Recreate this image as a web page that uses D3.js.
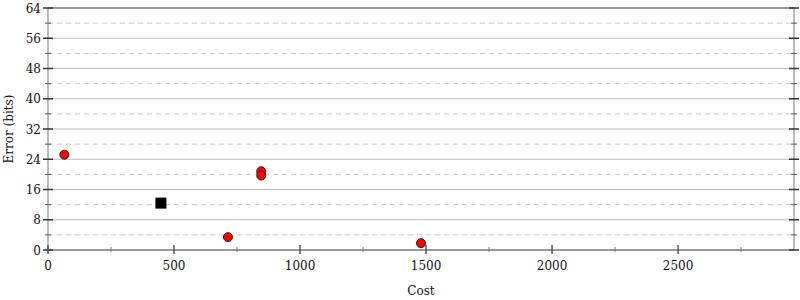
<!DOCTYPE html>
<html>
<head>
<meta charset="utf-8">
<script src="https://cdn.jsdelivr.net/npm/d3@7"></script>
<style>
  body { margin: 0; background: #fff; }
</style>
</head>
<body>
<div id="chart"></div>
<script>
// points
var pointCost = [65, 714, 846, 846, 1480];
var pointError = [25.2, 3.4, 20.8, 19.7, 1.8];
// the one square marker
var squareCost = [448];
var squareError = [12.4];
var xTicks = [0, 500, 1000, 1500, 2000, 2500];
var yTicks = [0, 8, 16, 24, 32, 40, 48, 56, 64];

function init() {
    var w = 800, h = 300;
    var left = 48, right = 794, top = 8, bottom = 250;

    var xScale = d3.scaleLinear().domain([0, 2960]).range([left, right]);
    var yScale = d3.scaleLinear().domain([0, 64]).range([bottom, top]);

    var svg = d3.select("#chart").append("svg")
        .attr("width", w).attr("height", h)
        .attr("font-family", "'DejaVu Serif', serif")
        .attr("font-size", 12);

    var minorY = d3.range(4, 64, 8);
    var minorX = d3.range(250, 2960, 500);

    // dashed minor gridlines
    svg.selectAll(".minorGrid").data(minorY).enter().append("line")
        .attr("x1", left).attr("x2", right)
        .attr("y1", function (d) { return yScale(d); })
        .attr("y2", function (d) { return yScale(d); })
        .attr("stroke", "#c8c8c8").attr("stroke-dasharray", "5,4");

    // solid major gridlines
    svg.selectAll(".majorGrid").data(yTicks.slice(1, -1)).enter().append("line")
        .attr("x1", left).attr("x2", right)
        .attr("y1", function (d) { return yScale(d); })
        .attr("y2", function (d) { return yScale(d); })
        .attr("stroke", "#bbb");

    // frame
    svg.append("line").attr("x1", left).attr("x2", left).attr("y1", top).attr("y2", bottom)
        .attr("stroke", "#bbb").attr("stroke-width", 2);
    svg.append("line").attr("x1", right).attr("x2", right).attr("y1", top).attr("y2", bottom)
        .attr("stroke", "#bbb").attr("stroke-width", 2);
    svg.append("line").attr("x1", left).attr("x2", right).attr("y1", top).attr("y2", top)
        .attr("stroke", "#999").attr("stroke-width", 2);
    svg.append("line").attr("x1", left).attr("x2", right).attr("y1", bottom).attr("y2", bottom)
        .attr("stroke", "#999").attr("stroke-width", 2);

    // y ticks, left and right
    [left, right].forEach(function (x0) {
        svg.selectAll(null).data(yTicks).enter().append("line")
            .attr("x1", x0 - 5).attr("x2", x0 + 5)
            .attr("y1", function (d) { return yScale(d); })
            .attr("y2", function (d) { return yScale(d); })
            .attr("stroke", "#333").attr("stroke-width", 1.5);
        svg.selectAll(null).data(minorY).enter().append("line")
            .attr("x1", x0 - 3).attr("x2", x0 + 3)
            .attr("y1", function (d) { return yScale(d); })
            .attr("y2", function (d) { return yScale(d); })
            .attr("stroke", "#555");
    });

    // x ticks
    svg.selectAll(null).data(xTicks).enter().append("line")
        .attr("x1", function (d) { return xScale(d); })
        .attr("x2", function (d) { return xScale(d); })
        .attr("y1", bottom - 5).attr("y2", bottom + 4)
        .attr("stroke", "#555").attr("stroke-width", 1.5);
    svg.selectAll(null).data(minorX).enter().append("line")
        .attr("x1", function (d) { return xScale(d); })
        .attr("x2", function (d) { return xScale(d); })
        .attr("y1", bottom - 3).attr("y2", bottom + 2)
        .attr("stroke", "#777");

    // tick labels
    svg.selectAll(null).data(yTicks).enter().append("text")
        .attr("x", left - 7)
        .attr("y", function (d) { return yScale(d) + 4.5; })
        .attr("text-anchor", "end").attr("fill", "#111")
        .text(function (d) { return d; });
    svg.selectAll(null).data(xTicks).enter().append("text")
        .attr("x", function (d) { return xScale(d); })
        .attr("y", bottom + 20)
        .attr("text-anchor", "middle").attr("fill", "#111")
        .text(function (d) { return d; });

    // axis titles
    svg.append("text").attr("x", (left + right) / 2).attr("y", 295)
        .attr("text-anchor", "middle").attr("fill", "#111").text("Cost");
    svg.append("text")
        .attr("transform", "translate(13," + (top + bottom) / 2 + ") rotate(-90)")
        .attr("text-anchor", "middle").attr("fill", "#111").text("Error (bits)");

    // square marker
    svg.selectAll(".sq").data(squareCost).enter().append("rect")
        .attr("x", function (d) { return xScale(d) - 5.5; })
        .attr("y", function (d, i) { return yScale(squareError[i]) - 5.5; })
        .attr("width", 11).attr("height", 11)
        .attr("fill", "#000");

    // red circles
    svg.selectAll(".pt").data(pointCost).enter().append("circle")
        .attr("cx", function (d) { return xScale(d); })
        .attr("cy", function (d, i) { return yScale(pointError[i]); })
        .attr("r", 4.5)
        .attr("fill", "#f00")
        .attr("stroke", "#222").attr("stroke-width", 1);
}

window.onload = init;
</script>
</body>
</html>
